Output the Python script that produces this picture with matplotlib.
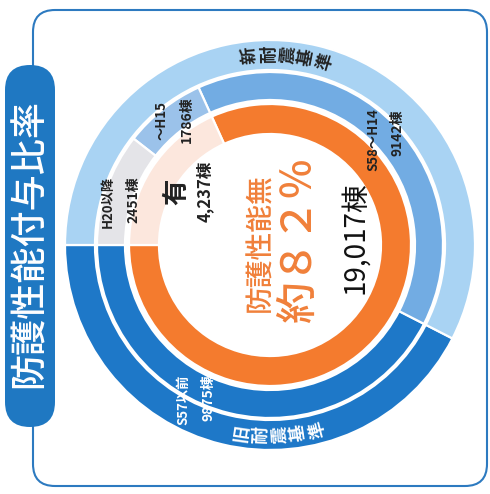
import numpy as np
import matplotlib
matplotlib.use("Agg")
import matplotlib.pyplot as plt
from matplotlib.patches import FancyBboxPatch

plt.rcParams['font.family'] = ['Noto Sans CJK JP', 'DejaVu Sans']

# data (棟)
outer_labels = ['旧耐震基準', '新耐震基準']
outer_values = [9875, 13379]
middle_labels = ['S57以前', 'S58～H14', '～H15', 'H20以降']
middle_values = [9875, 9142, 1786, 2451]
inner_labels = ['無', '有']
inner_values = [19017, 4237]

DARK = '#1E78C8'
LIGHT = '#A9D3F3'
MID = '#72ACE3'
H15C = '#9BC2EA'
GRAY = '#E4E4E8'
ORANGE = '#F47B2E'
PEACH = '#FCE7DD'
TXT_OR = '#F0803A'

W, H = 490, 494
fig = plt.figure(figsize=(W / 100, H / 100), dpi=100)
ax = fig.add_axes([0, 0, 1, 1])

cx, cy = 270, 249
wp = dict(edgecolor='white', linewidth=1.6)
ax.pie(outer_values, colors=[DARK, LIGHT], startangle=180, counterclock=True,
       center=(cx, cy), radius=205, wedgeprops=dict(width=30, **wp))
ax.pie(middle_values, colors=[DARK, MID, H15C, GRAY], startangle=180, counterclock=True,
       center=(cx, cy), radius=173, wedgeprops=dict(width=28, **wp))
ax.pie(inner_values, colors=[ORANGE, PEACH], startangle=180, counterclock=True,
       center=(cx, cy), radius=141, wedgeprops=dict(width=30, **wp))

ax.set_xlim(0, W)
ax.set_ylim(0, H)
ax.set_aspect('equal')
ax.axis('off')

# frame + title box
frame = FancyBboxPatch((33, 8), 454, 476, boxstyle="round,pad=0,rounding_size=22",
                       facecolor='none', edgecolor='#2D7AC0', linewidth=1.5, zorder=1)
ax.add_patch(frame)
tbox = FancyBboxPatch((5, 67), 50, 362, boxstyle="round,pad=0,rounding_size=25",
                      facecolor='#1F78C2', edgecolor='none', zorder=5)
ax.add_patch(tbox)
ax.text(30, 250, '防護性能付与比率', rotation=90, color='white', fontsize=26,
        fontweight='medium', ha='center', va='center', zorder=6)

# ring captions, each char rotated
def arc_text(s, angles, r, rot_off, color):
    for ch, a in zip(s, angles):
        t = np.deg2rad(a)
        ax.text(cx + r * np.cos(t), cy + r * np.sin(t), ch, rotation=a + rot_off,
                rotation_mode='anchor', ha='center', va='center', fontsize=12.5,
                fontweight='bold', color=color)

arc_text(outer_labels[1], [96, 90.3, 84.6, 78.9, 73.2], 191, 0, '#222222')
arc_text(outer_labels[0], [-98.4, -92.7, -87, -81.3, -75.6], 190, 180, 'white')

# centre text
ax.text(260, 251, '防護性能' + inner_labels[0], rotation=90, color=TXT_OR, fontsize=20,
        fontweight='medium', ha='center', va='center')
pct = round(inner_values[0] / sum(inner_values) * 100)
pct_s = ''.join(chr(ord(c) + 0xFEE0) for c in str(pct))
ax.text(298, 254, '約' + pct_s + '％', rotation=90, color=TXT_OR, fontsize=30,
        fontweight='medium', ha='center', va='center')
ax.text(355, 256, f'{inner_values[0]:,}棟', rotation=90, color='#111111', fontsize=20,
        ha='center', va='center')

# segment labels
lab = dict(rotation=90, ha='center', va='center', fontweight='bold')
ax.text(108, 292, middle_labels[3], fontsize=9.5, color='#222222', **lab)
ax.text(133, 294, f'{middle_values[3]}棟', fontsize=10, color='#222222', **lab)
ax.text(162, 373, middle_labels[2], fontsize=9.5, color='#222222', **lab)
ax.text(187, 374, f'{middle_values[2]}棟', fontsize=10, color='#222222', **lab)
ax.text(177, 302, inner_labels[1], fontsize=19, color='#222222', **lab)
ax.text(205, 303, f'{inner_values[1]:,}棟', fontsize=12, color='#222222', **lab)
ax.text(373, 354, middle_labels[1], fontsize=9.5, color='#222222', **lab)
ax.text(397, 361, f'{middle_values[1]}棟', fontsize=10, color='#222222', **lab)
ax.text(183, 94, middle_labels[0], fontsize=9.5, color='white', **lab)
ax.text(208, 96, f'{middle_values[0]}棟', fontsize=10, color='white', **lab)

fig.savefig('out.png', dpi=100)
